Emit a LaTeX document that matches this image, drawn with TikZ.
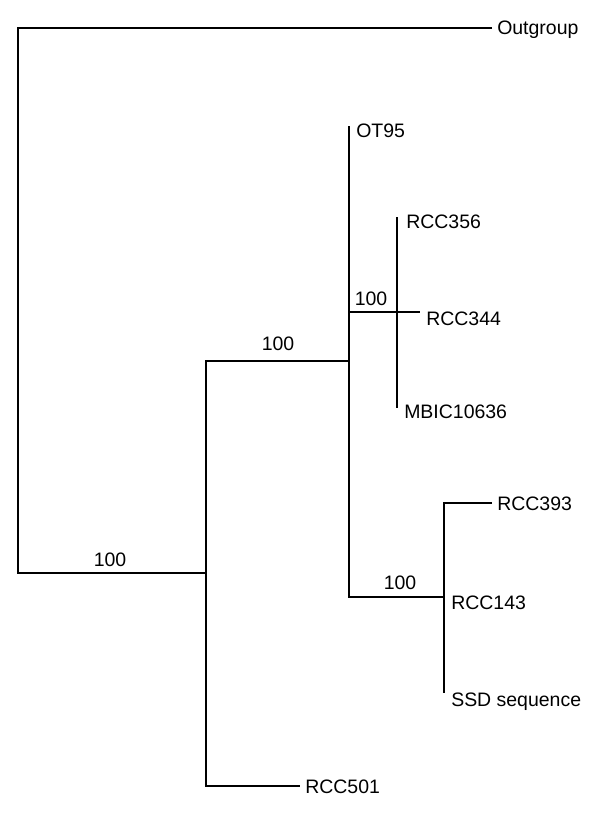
\documentclass[tikz,border=0pt]{standalone}
\usepackage{fontspec}
\setmainfont{Liberation Sans}
\usepackage{tikz}

\begin{document}
\begin{tikzpicture}[x=0.75pt,y=-0.75pt,
  branch/.style={line width=1.8pt,line join=miter},
  taxon/.style={anchor=base west,inner sep=0pt,font=\fontsize{14.6}{17}\selectfont},
  support/.style={anchor=base,inner sep=0pt,font=\fontsize{14.6}{17}\selectfont}]

\useasboundingbox (0,0) rectangle (600,817);

% inner nodes of the tree
\coordinate (Root) at (18,573);
\coordinate (Ingroup) at (206,573);
\coordinate (CladeB) at (349,361);
\coordinate (CladeC) at (397,312);
\coordinate (CladeD) at (444,597);

% ends of the branches
\coordinate (OutgroupTip) at (492,28);
\coordinate (OT95Tip) at (349,126);
\coordinate (RCC356Tip) at (397,217);
\coordinate (RCC344Tip) at (420,312);
\coordinate (MBICTip) at (397,408);
\coordinate (RCC393Tip) at (492,503);
\coordinate (SSDTip) at (444,693);
\coordinate (RCC501Tip) at (300,786);

\node (Outgroup) at (497,35) [taxon]{Outgroup};
\node (OT95) at (356,137) [taxon]{OT95};
\node (RCC356) at (406,228) [taxon]{RCC356};
\node (RCC344) at (426,325) [taxon]{RCC344};
\node (MBIC10636) at (404,418) [taxon]{MBIC10636};
\node (RCC393) at (497,510) [taxon]{RCC393};
\node (RCC143) at (451,609) [taxon]{RCC143};
\node (SSDsequence) at (451,706) [taxon]{SSD sequence};
\node (RCC501) at (305,793) [taxon]{RCC501};

\node (RootSupport) at (110,566) [support]{100};
\node (BSupport) at (278,350) [support]{100};
\node (CSupport) at (371,305) [support]{100};
\node (DSupport) at (400,589) [support]{100};

\draw [branch] (OutgroupTip) -| (Root) -- (Ingroup);
\draw [branch] (CladeB) -| (Ingroup) |- (RCC501Tip);

\draw [branch] (OT95Tip) |- (CladeD);
\draw [branch] (CladeC -| CladeB) -- (RCC344Tip);
\draw [branch] (RCC356Tip) -- (MBICTip);

\draw [branch] (RCC393Tip) -| (SSDTip);

\end{tikzpicture}
\end{document}
